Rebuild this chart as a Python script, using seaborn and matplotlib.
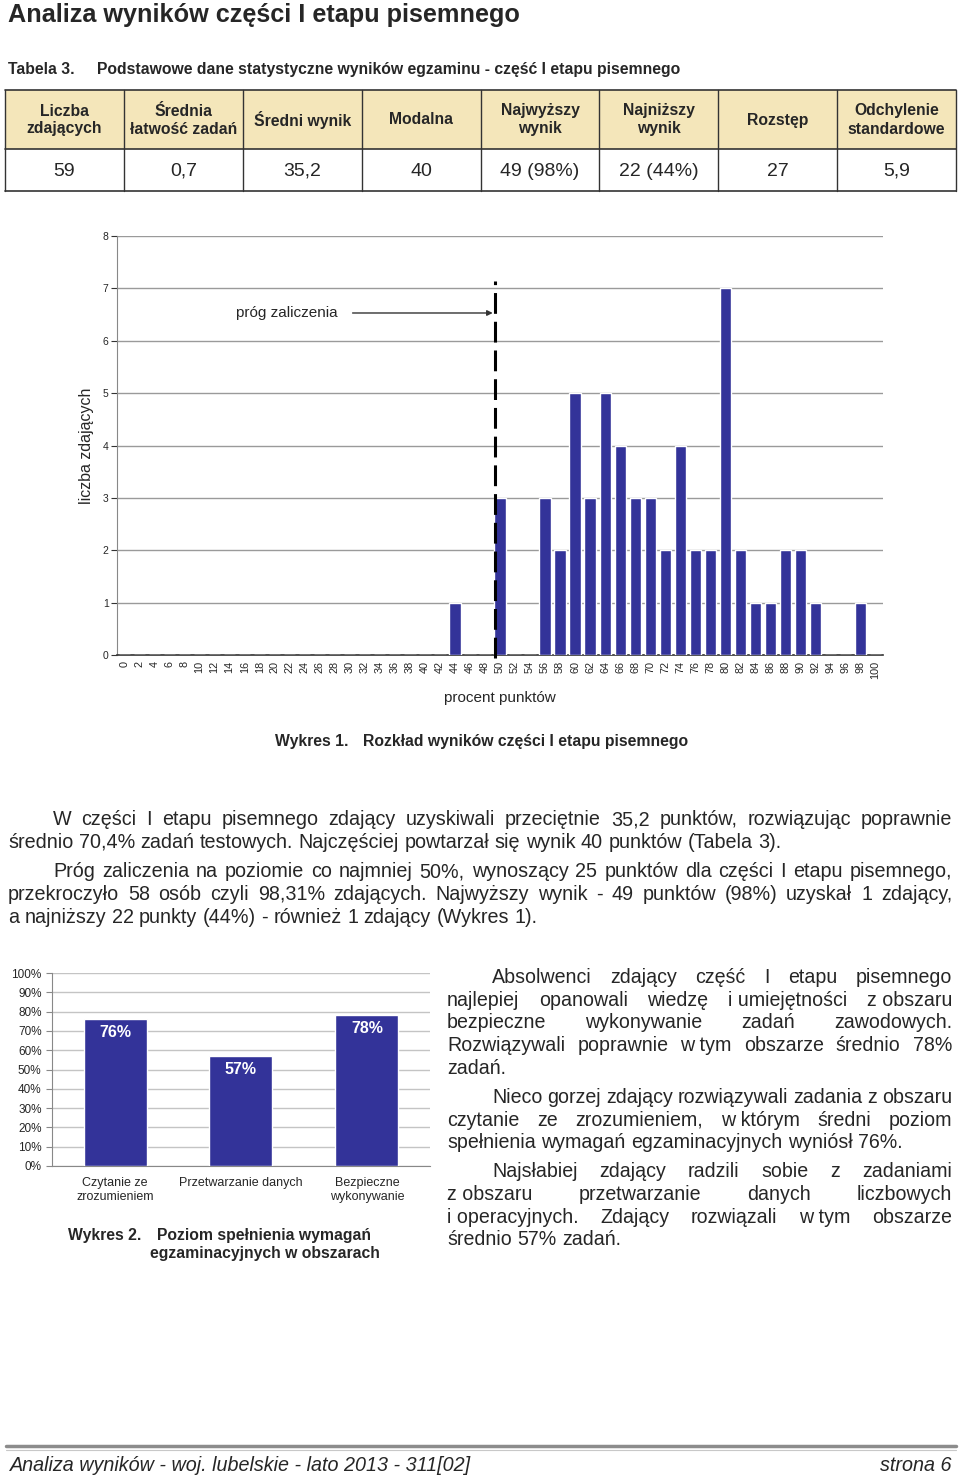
import numpy as np
import pandas as pd
import seaborn as sns
import matplotlib.pyplot as plt
from matplotlib.patches import Rectangle

W, H = 960, 1476
NAVY = '#333399'
NB = '\u00a0'  # non-breaking space: keeps one-letter words with the next word

# --- data -------------------------------------------------------------
table_headers = ["Liczba\nzdających", "Średnia\nłatwość zadań", "Średni wynik", "Modalna",
                 "Najwyższy\nwynik", "Najniższy\nwynik", "Rozstęp", "Odchylenie\nstandardowe"]
table_values = ["59", "0,7", "35,2", "40", "49 (98%)", "22 (44%)", "27", "5,9"]

percent_bins = list(range(0, 101, 2))
student_counts = [0, 0, 0, 0, 0, 0, 0, 0, 0, 0, 0, 0, 0, 0, 0, 0, 0, 0, 0, 0, 0, 0,
                  1, 0, 0, 3, 0, 0, 3, 2, 5, 3, 5, 4, 3, 3, 2, 4, 2, 2, 7, 2, 1, 1,
                  2, 2, 1, 0, 0, 1, 0]
pass_threshold = 50

areas = ["Czytanie ze\nzrozumieniem", "Przetwarzanie danych", "Bezpieczne\nwykonywanie"]
area_scores = [76, 57, 78]

para_main = [
    ["W części I etapu pisemnego zdający uzyskiwali przeciętnie 35,2 punktów, rozwiązując poprawnie",
     "średnio 70,4% zadań testowych. Najczęściej powtarzał się wynik 40 punktów (Tabela 3)."],
    ["Próg zaliczenia na poziomie co najmniej 50%, wynoszący 25 punktów dla części I etapu pisemnego,",
     "przekroczyło 58 osób czyli 98,31% zdających. Najwyższy wynik - 49 punktów (98%) uzyskał 1 zdający,",
     "a najniższy 22 punkty (44%) - również 1 zdający (Wykres 1)."],
]
para_side = [
    ["Absolwenci zdający część I etapu pisemnego",
     f"najlepiej opanowali wiedzę i{NB}umiejętności z{NB}obszaru",
     "bezpieczne wykonywanie zadań zawodowych.",
     f"Rozwiązywali poprawnie w{NB}tym obszarze średnio 78%",
     "zadań."],
    ["Nieco gorzej zdający rozwiązywali zadania z obszaru",
     f"czytanie ze zrozumieniem, w{NB}którym średni poziom",
     "spełnienia wymagań egzaminacyjnych wyniósł 76%."],
    ["Najsłabiej zdający radzili sobie z zadaniami",
     f"z{NB}obszaru przetwarzanie danych liczbowych",
     f"i{NB}operacyjnych. Zdający rozwiązali w{NB}tym obszarze",
     "średnio 57% zadań."],
]

sns.set_style('white')
plt.rcParams['font.family'] = ['Liberation Sans', 'DejaVu Sans']

fig = plt.figure(figsize=(W / 100, H / 100), dpi=100)

# page overlay in pixel coordinates
page = fig.add_axes([0, 0, 1, 1])
page.set_xlim(0, W)
page.set_ylim(H, 0)
page.axis('off')

page.text(8, 22, "Analiza wyników części I etapu pisemnego", fontsize=18.2,
          fontweight='bold', va='baseline')
page.text(8, 74, "Tabela 3.", fontsize=11.3, fontweight='bold', va='baseline')
page.text(97, 74, "Podstawowe dane statystyczne wyników egzaminu - część I etapu pisemnego",
          fontsize=11.3, fontweight='bold', va='baseline')

# table
tx0, tx1, ty0, ty1, ty2 = 5, 956, 90, 149, 191
cw = (tx1 - tx0) / len(table_headers)
page.add_patch(Rectangle((tx0, ty0), tx1 - tx0, ty1 - ty0, facecolor='#F4E6BA',
                         edgecolor='none', zorder=1))
for yy in (ty0, ty1, ty2):
    page.plot([tx0, tx1], [yy, yy], color='#333333', lw=1.2, zorder=2)
for i in range(len(table_headers) + 1):
    page.plot([tx0 + i * cw] * 2, [ty0, ty2], color='#333333', lw=1.0, zorder=2)
for i, (hd, val) in enumerate(zip(table_headers, table_values)):
    cx = tx0 + (i + 0.5) * cw
    page.text(cx, 120, hd, fontsize=11.3, fontweight='bold', ha='center', va='center',
              linespacing=1.25, zorder=3)
    page.text(cx, 176, val, fontsize=14, ha='center', va='baseline', zorder=3)

# --- Wykres 1 ---------------------------------------------------------
ax1 = fig.add_axes([117 / W, 1 - 655 / H, 766 / W, 419 / H])
hist_df = pd.DataFrame({'bin': [str(b) for b in percent_bins], 'n': student_counts})
sns.barplot(data=hist_df, x='bin', y='n', color=NAVY, saturation=1, width=0.75,
            ax=ax1, zorder=3)
ax1.set_xlim(-0.5, len(percent_bins) - 0.5)
ax1.set_ylim(0, 8)
ax1.set_yticks(range(0, 9))
ax1.yaxis.grid(True, color='#9a9a9a', lw=1)
ax1.set_axisbelow(True)
ax1.set_xticks(np.arange(len(percent_bins)) + 0.5, minor=True)
ax1.tick_params(axis='x', which='major', length=0, labelsize=7.8, labelrotation=90, pad=4)
ax1.tick_params(axis='x', which='minor', length=4, color='#333333', direction='out')
ax1.tick_params(axis='y', length=4, pad=2, labelsize=7.5, color='#333333',
                direction='out', left=True)
for s in ('top', 'right'):
    ax1.spines[s].set_visible(False)
ax1.spines['left'].set_color('#888888')
ax1.spines['bottom'].set_color('#333333')
ax1.spines['bottom'].set_linewidth(1.2)
ax1.set_xlabel('procent punktów', fontsize=11, labelpad=9)
ax1.set_ylabel('liczba zdających', fontsize=11.5, labelpad=6)

px = percent_bins.index(pass_threshold) - 0.3
ax1.plot([px, px], [-0.05, 7.15], color='black', lw=2.2, dashes=(6.8, 2.6), zorder=4,
         clip_on=False)
ax1.annotate('', xy=(px, 6.53), xytext=(15.0, 6.53),
             arrowprops=dict(arrowstyle='-|>', color='#333333', lw=1, mutation_scale=8))
ax1.text(10.8, 6.53, 'próg zaliczenia', fontsize=11, ha='center', va='center')

page.text(275, 746, "Wykres 1.", fontsize=11.3, fontweight='bold', va='baseline')
page.text(363, 746, "Rozkład wyników części I etapu pisemnego", fontsize=11.3,
          fontweight='bold', va='baseline')

# --- justified paragraphs ----------------------------------------------
renderer = fig.canvas.get_renderer()


def put_line(line, x0, x1, y, size, justify):
    words = line.split(' ')
    ts = [page.text(0, y, w, fontsize=size, va='baseline') for w in words]
    widths = [t.get_window_extent(renderer).width for t in ts]
    gap = size * 0.278 * 100 / 72
    if justify and len(words) > 1:
        gap = (x1 - x0 - sum(widths)) / (len(words) - 1)
    x = x0
    for t, w in zip(ts, widths):
        t.set_x(x)
        x += w + gap


def put_paragraphs(paras, left, indent, right, y0, step, para_gap, size):
    y = y0
    for para in paras:
        for j, line in enumerate(para):
            x0 = indent if j == 0 else left
            put_line(line, x0, right, y, size, j < len(para) - 1)
            y += step
        y += para_gap


put_paragraphs(para_main, 8, 53, 952, 825, 23, 6, 14.2)
put_paragraphs(para_side, 447, 492, 952, 983, 22.7, 6.3, 14.1)

# --- Wykres 2 ---------------------------------------------------------
ax2 = fig.add_axes([52 / W, 1 - 1166 / H, 378 / W, 193 / H])
area_df = pd.DataFrame({'area': areas, 'score': area_scores})
sns.barplot(data=area_df, x='area', y='score', color=NAVY, saturation=1, width=0.5,
            ax=ax2, zorder=3)
ax2.set_ylim(0, 100)
ax2.set_xlim(-0.5, len(areas) - 0.5)
ax2.set_yticks(range(0, 101, 10))
ax2.set_yticklabels([f'{v}%' for v in range(0, 101, 10)])
ax2.yaxis.grid(True, color='#c4c4c4', lw=1)
ax2.set_axisbelow(True)
ax2.set_xticks(np.arange(len(areas) + 1) - 0.5, minor=True)
ax2.tick_params(axis='x', which='major', length=0, labelsize=9, pad=8)
ax2.tick_params(axis='x', which='minor', length=4, color='#888888', direction='out')
ax2.tick_params(axis='y', length=4, labelsize=8.5, color='#888888', direction='out', left=True)
for s in ('top', 'right'):
    ax2.spines[s].set_visible(False)
ax2.spines['left'].set_color('#888888')
ax2.spines['bottom'].set_color('#888888')
ax2.set_xlabel('')
ax2.set_ylabel('')
for i, v in enumerate(area_scores):
    ax2.text(i, v - 7, f'{v}%', ha='center', va='center', color='white',
             fontsize=11.5, fontweight='bold', zorder=4)

page.text(68, 1240, "Wykres 2.", fontsize=11.3, fontweight='bold', va='baseline')
page.text(157, 1240, "Poziom spełnienia wymagań", fontsize=11.3, fontweight='bold',
          va='baseline')
page.text(150, 1258, "egzaminacyjnych w obszarach", fontsize=11.3, fontweight='bold',
          va='baseline')

# --- footer -----------------------------------------------------------
page.plot([6, 956], [1446, 1446], color='#8c8c8c', lw=2.5)
page.plot([6, 956], [1449.5, 1449.5], color='#c8c8c8', lw=0.8)
page.text(10, 1471, "Analiza wyników - woj. lubelskie - lato 2013 - 311[02]",
          fontsize=14.2, fontstyle='italic', va='baseline')
page.text(952, 1471, "strona 6", fontsize=14.2, fontstyle='italic', va='baseline', ha='right')

fig.savefig('out.png', dpi=100, facecolor='white')
